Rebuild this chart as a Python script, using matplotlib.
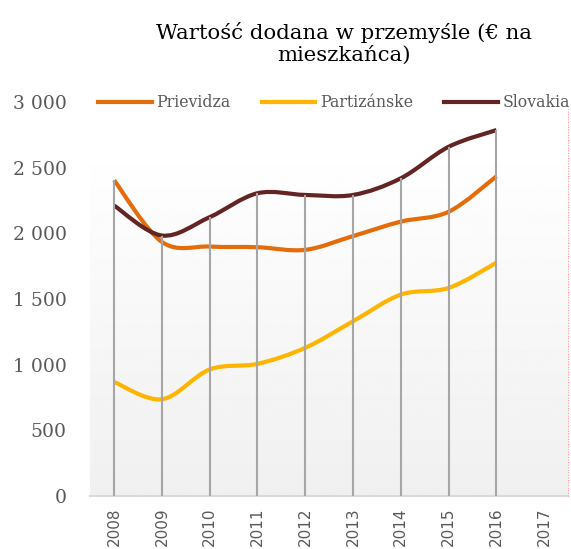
import numpy as np
import matplotlib
matplotlib.use('Agg')
import matplotlib.pyplot as plt
from matplotlib.path import Path
from matplotlib.patches import PathPatch
from matplotlib.lines import Line2D

years = ['2008', '2009', '2010', '2011', '2012', '2013', '2014', '2015', '2016', '2017']
prievidza = [2405, 1935, 1900, 1895, 1875, 1980, 2090, 2165, 2435]
partizanske = [868, 737, 964, 1007, 1129, 1331, 1534, 1585, 1777]
slovakia = [2212, 1984, 2124, 2306, 2293, 2293, 2420, 2660, 2787]

series = [
    ('Prievidza', prievidza, '#E46C0A'),
    ('Partizánske', partizanske, '#FFB400'),
    ('Slovakia', slovakia, '#632523'),
]

TXT = '#595959'


def smooth_path(xs, ys):
    # Excel-style smoothed line: cubic bezier through every point
    p = np.column_stack([xs, ys]).astype(float)
    verts = [p[0]]
    codes = [Path.MOVETO]
    n = len(p)
    for i in range(n - 1):
        p0 = p[max(i - 1, 0)]
        p3 = p[min(i + 2, n - 1)]
        c1 = p[i] + (p[i + 1] - p0) / 6
        c2 = p[i + 1] - (p3 - p[i]) / 6
        verts += [c1, c2, p[i + 1]]
        codes += [Path.CURVE4] * 3
    return Path(verts, codes)


fig = plt.figure(figsize=(5.71, 5.49), dpi=100)
ax = fig.add_axes([0.158, 0.0965, 0.837, 0.7175])
ax.set_xlim(-0.5, len(years) - 0.5)
ax.set_ylim(0, 3000)

# soft gray gradient behind the plot area
grad = np.linspace(0.94, 1.0, 256).reshape(-1, 1)
ax.imshow(grad, cmap='gray', vmin=0, vmax=1, aspect='auto', origin='lower',
          extent=(-0.5, len(years) - 0.5, 0, 2690), zorder=0)

for name, vals, col in series:
    x = np.arange(len(vals))
    ax.add_patch(PathPatch(smooth_path(x, vals), fill=False, edgecolor=col,
                           lw=3, capstyle='butt', zorder=3))

# drop lines from the highest point down to the axis
tops = np.max([prievidza, partizanske, slovakia], axis=0)
ax.vlines(np.arange(len(tops)), 0, tops, color='#A6A6A6', lw=1.5, zorder=4)

ax.plot([len(years) - 0.5] * 2, [0, 2950], color='#FF8080', lw=0.7,
        ls=':', clip_on=False, zorder=5)

for s in ['top', 'right', 'left']:
    ax.spines[s].set_visible(False)
ax.spines['bottom'].set_color('#D9D9D9')
ax.spines['bottom'].set_linewidth(1.5)

ax.set_yticks(range(0, 3001, 500))
ax.set_yticklabels([f'{v:,}'.replace(',', ' ') for v in range(0, 3001, 500)],
                   family='DejaVu Serif', fontsize=13.5, color=TXT)
ax.set_xticks(range(len(years)))
ax.set_xticklabels(years, rotation=90, fontsize=11, color=TXT,
                   family='DejaVu Sans', va='top')
ax.tick_params(axis='y', length=0, pad=17)
ax.tick_params(axis='x', length=0, pad=8)

handles = [Line2D([], [], color=c, lw=3) for _, _, c in series]
fig.legend(handles, [n for n, _, _ in series], loc='center',
           bbox_to_anchor=(0.585, 0.813), ncol=3, frameon=False,
           handlelength=3.4, handletextpad=0.3, columnspacing=2.0,
           prop={'family': 'DejaVu Serif', 'size': 11.3}, labelcolor=TXT)

fig.text(0.602, 0.921, 'Wartość dodana w przemyśle (€ na\nmieszkańca)',
         ha='center', va='center', family='DejaVu Serif', fontsize=15.3,
         color='black', linespacing=1.2)

fig.savefig('out.png', dpi=100)
